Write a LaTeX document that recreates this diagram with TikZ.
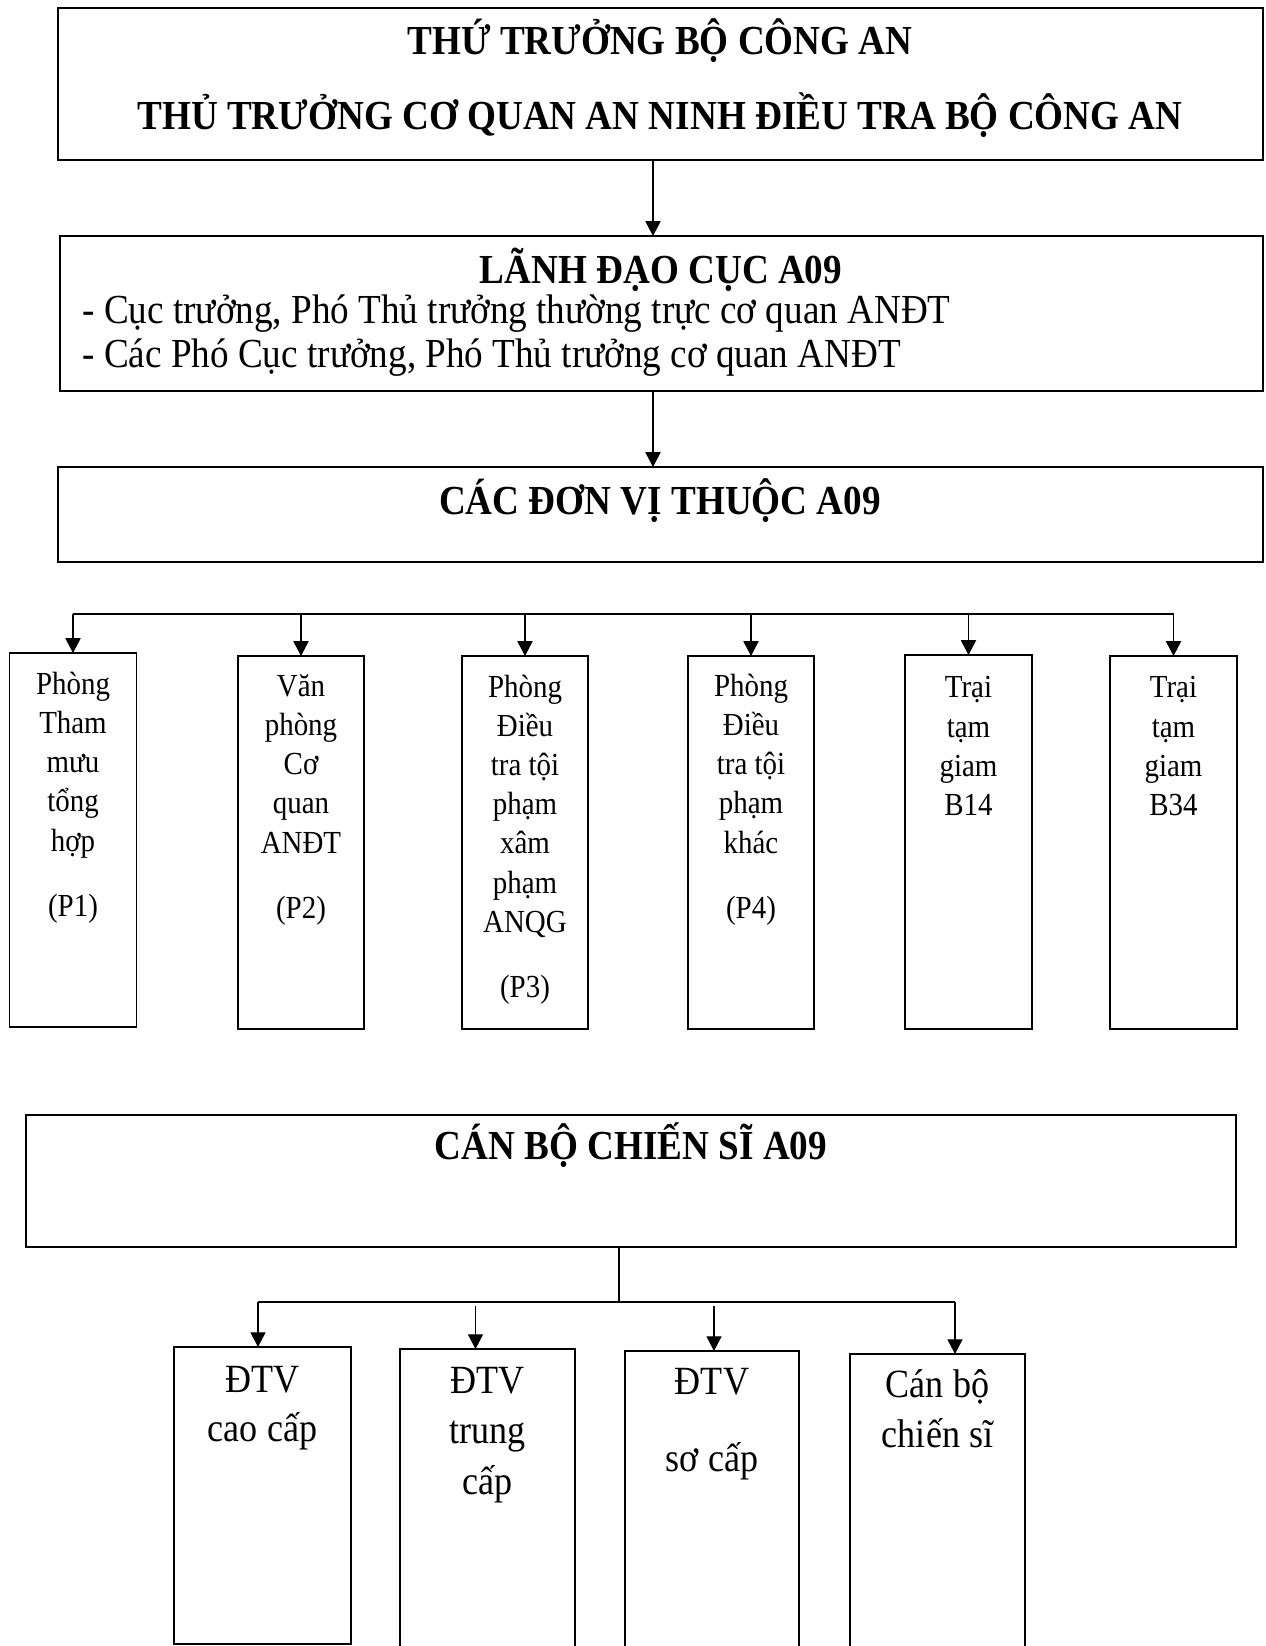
\documentclass[tikz,border=0pt]{standalone}
\usepackage{fontspec}
\setmainfont{Liberation Serif}[FakeStretch=0.9]
\usepackage{tikz}
\usetikzlibrary{arrows.meta}

\newcommand{\pxu}{0.02cm}

\begin{document}
\begin{tikzpicture}[x=0.02cm, y=-0.02cm,
        box/.style={draw, line width=1.1pt, inner sep=0pt, outer sep=0pt, anchor=north west},
        arr/.style={line width=0.8pt, -{Triangle[length=8.4pt, width=8.6pt]}},
        bus/.style={line width=0.8pt},
        ttl/.style={font=\fontsize{23.5}{28}\selectfont\bfseries, anchor=base, inner sep=0pt},
        bul/.style={font=\fontsize{23.5}{28}\selectfont, anchor=base west, inner sep=0pt},
        txt/.style={font=\fontsize{18.3}{22.2}\selectfont, align=center, anchor=base, inner sep=0pt},
        big/.style={font=\fontsize{22.8}{28.5}\selectfont, align=center, anchor=base, inner sep=0pt}]
        \useasboundingbox (0,0) rectangle (1266,1646);

        \node[box, minimum width=1205*\pxu, minimum height=152*\pxu] (top) at (58,8) {};
        \node[ttl] (top1) at (660,55) {THỨ TRƯỞNG BỘ CÔNG AN};
        \node[ttl] (top2) at (660,130) {THỦ TRƯỞNG CƠ QUAN AN NINH ĐIỀU TRA BỘ CÔNG AN};

        \node[box, minimum width=1203*\pxu, minimum height=155*\pxu] (lead) at (60,236) {};
        \node[ttl] (lead0) at (661,283) {LÃNH ĐẠO CỤC A09};
        \node[bul] (lead1) at (82,323) {- Cục trưởng, Phó Thủ trưởng thường trực cơ quan ANĐT};
        \node[bul] (lead2) at (82,367) {- Các Phó Cục trưởng, Phó Thủ trưởng cơ quan ANĐT};

        \node[box, minimum width=1205*\pxu, minimum height=95*\pxu] (units) at (58,467) {};
        \node[ttl] (units0) at (660,514) {CÁC ĐƠN VỊ THUỘC A09};

        \coordinate (a1) at (653,0);
        \draw[arr] (a1 |- top.south) -- (a1 |- lead.north);
        \draw[arr] (a1 |- lead.south) -- (a1 |- units.north);

        \node[box, minimum width=127*\pxu, minimum height=374*\pxu] (p1) at (9.5,653) {};
        \node[box, minimum width=126*\pxu, minimum height=373*\pxu] (p2) at (238,656) {};
        \node[box, minimum width=126*\pxu, minimum height=373*\pxu] (p3) at (462,656) {};
        \node[box, minimum width=126*\pxu, minimum height=373*\pxu] (p4) at (688,656) {};
        \node[box, minimum width=127*\pxu, minimum height=374*\pxu] (b14) at (905,655) {};
        \node[box, minimum width=127*\pxu, minimum height=373*\pxu] (b34) at (1110,656) {};

        % anchor base sits on the last line
        \node[txt] (p1t) at (p1.north |- 0,916) {Phòng\\Tham\\mưu\\tổng\\hợp\\[14.8pt](P1)};
        \node[txt] (p2t) at (p2.north |- 0,918) {Văn\\phòng\\Cơ\\quan\\ANĐT\\[14.8pt](P2)};
        \node[txt] (p3t) at (p3.north |- 0,997) {Phòng\\Điều\\tra tội\\phạm\\xâm\\phạm\\ANQG\\[14.8pt](P3)};
        \node[txt] (p4t) at (p4.north |- 0,918) {Phòng\\Điều\\tra tội\\phạm\\khác\\[14.8pt](P4)};
        \node[txt] (b14t) at (b14.north |- 0,815) {Trại\\tạm\\giam\\B14};
        \node[txt] (b34t) at (b34.north |- 0,815) {Trại\\tạm\\giam\\B34};

        \coordinate (bus1) at (0,614);
        \draw[bus] (bus1 -| p1.north) -- (bus1 -| b34.north);
        \foreach \n in {p1,p2,p3,p4,b14,b34}
                \draw[arr] (bus1 -| \n.north) -- (\n.north);

        \node[box, minimum width=1210*\pxu, minimum height=132*\pxu] (staff) at (26,1115) {};
        \node[ttl] (staff0) at (631,1159) {CÁN BỘ CHIẾN SĨ A09};

        \node[box, minimum width=177*\pxu, minimum height=297*\pxu] (d1) at (174,1347) {};
        \node[box, minimum width=175*\pxu, minimum height=340*\pxu] (d2) at (400,1349) {};
        \node[box, minimum width=174*\pxu, minimum height=340*\pxu] (d3) at (625,1351) {};
        \node[box, minimum width=175*\pxu, minimum height=340*\pxu] (d4) at (850,1354) {};

        \node[big] (d1t) at (d1.north |- 0,1441) {ĐTV\\[-1pt]cao cấp};
        \node[big] (d2t) at (d2.north |- 0,1494) {ĐTV\\trung\\cấp};
        \node[big] (d3t) at (d3.north |- 0,1471) {ĐTV\\[14.8pt]sơ cấp};
        \node[big] (d4t) at (d4.north |- 0,1447) {Cán bộ\\[-0.5pt]chiến sĩ};

        \coordinate (bus2) at (619,1302);
        \coordinate (c1) at (258,1302);
        \coordinate (c2) at (475.5,1306);
        \coordinate (c3) at (714,1306);
        \coordinate (c4) at (955,1302);
        \draw[bus] (bus2 |- staff.south) -- (bus2);
        \draw[bus] (c1) -- (c4);
        \draw[arr] (c1) -- (c1 |- d1.north);
        \draw[arr] (c2) -- (c2 |- d2.north);
        \draw[arr] (c3) -- (c3 |- d3.north);
        \draw[arr] (c4) -- (c4 |- d4.north);

\end{tikzpicture}
\end{document}
